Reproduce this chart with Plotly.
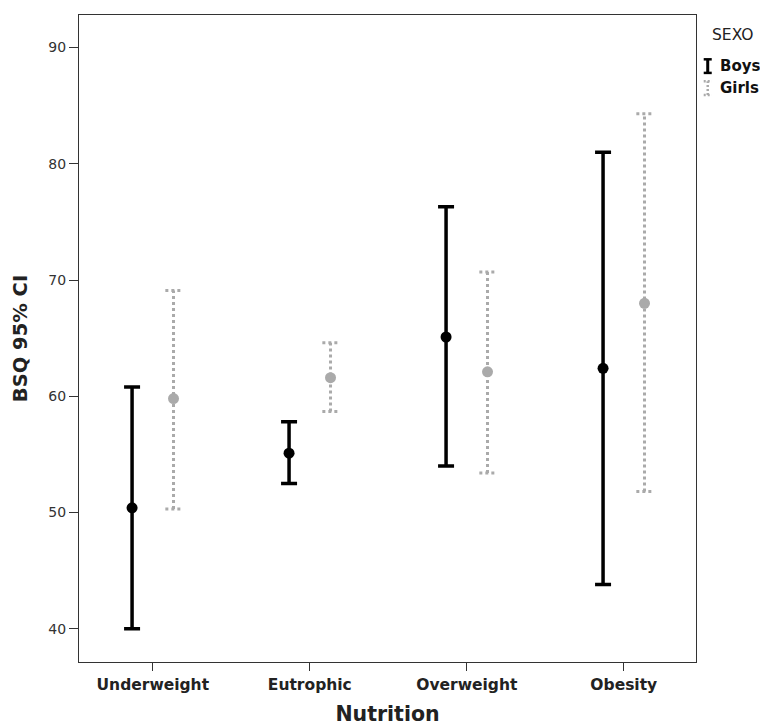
import plotly.graph_objects as go

categories = ["Underweight", "Eutrophic", "Overweight", "Obesity"]
boys_mean = [50.4, 55.1, 65.1, 62.4]
boys_low = [40.0, 52.5, 54.0, 43.8]
boys_high = [60.8, 57.8, 76.3, 81.0]
girls_mean = [59.8, 61.6, 62.1, 68.0]
girls_low = [50.3, 58.7, 53.4, 51.8]
girls_high = [69.1, 64.6, 70.7, 84.3]
y_ticks = [40, 50, 60, 70, 80, 90]

OFFSET = 0.132
CAP = 0.052
FONT = "DejaVu Sans"
GRAY = "#aaaaaa"

xb = [i - OFFSET for i in range(len(categories))]
xg = [i + OFFSET for i in range(len(categories))]

fig = go.Figure()

# Boys: solid black error bars
fig.add_trace(go.Scatter(
    x=xb, y=boys_mean, mode="markers",
    marker=dict(color="black", size=11),
    error_y=dict(type="data", symmetric=False,
                 array=[h - m for h, m in zip(boys_high, boys_mean)],
                 arrayminus=[m - l for m, l in zip(boys_mean, boys_low)],
                 color="black", thickness=3.5, width=8),
    showlegend=False, name="Boys"))

# Girls: dashed gray error bars built from line segments
lx, ly = [], []
for x, lo, hi in zip(xg, girls_low, girls_high):
    lx += [x, x, None, x - CAP, x + CAP, None, x - CAP, x + CAP, None]
    ly += [lo, hi, None, hi, hi, None, lo, lo, None]
fig.add_trace(go.Scatter(
    x=lx, y=ly, mode="lines",
    line=dict(color=GRAY, width=3, dash="3px,3px"),
    showlegend=False, hoverinfo="skip"))
fig.add_trace(go.Scatter(
    x=xg, y=girls_mean, mode="markers",
    marker=dict(color=GRAY, size=11),
    showlegend=False, name="Girls"))

fig.update_layout(
    width=760, height=718,
    margin=dict(l=71, r=72, t=7, b=64),
    paper_bgcolor="white", plot_bgcolor="white",
    font=dict(family=FONT, color="#222"),
    xaxis=dict(range=[-0.47, 3.46], tickvals=list(range(len(categories))),
               ticktext=categories, showgrid=False, zeroline=False, automargin=False,
               showline=True, mirror=True, linecolor="#333", linewidth=1.2,
               ticks="outside", ticklen=8, tickcolor="#333",
               tickfont=dict(family=FONT, size=15.5, color="#222", weight="bold"),
               title=dict(text="<b>Nutrition</b>", font=dict(family=FONT, size=20.5, color="#222"),
                          standoff=15)),
    yaxis=dict(range=[37.14, 92.8], tickvals=y_ticks, showgrid=False, zeroline=False, automargin=False,
               showline=True, mirror=True, linecolor="#333", linewidth=1.2,
               ticks="outside", ticklen=9, tickcolor="#333",
               tickfont=dict(family=FONT, size=14, color="#333"),
               title=dict(text="<b>BSQ 95% CI</b>", font=dict(family=FONT, size=19.5, color="#222"),
                          standoff=15)),
)

# Legend (SPSS style) as annotations and small icon shapes
fig.add_annotation(xref="paper", yref="paper", x=1.023, y=0.969, text="SEXO",
                   showarrow=False, xanchor="left", yanchor="middle",
                   font=dict(family=FONT, size=15.5, color="#222"))
fig.add_annotation(xref="paper", yref="paper", x=1.036, y=0.921, text="<b>Boys</b>",
                   showarrow=False, xanchor="left", yanchor="middle",
                   font=dict(family=FONT, size=15, color="#111"))
fig.add_annotation(xref="paper", yref="paper", x=1.036, y=0.887, text="<b>Girls</b>",
                   showarrow=False, xanchor="left", yanchor="middle",
                   font=dict(family=FONT, size=15, color="#111"))

ix, dy, dx = 1.019, 0.0105, 0.0065
for yc, col, dash, w in [(0.921, "black", "solid", 3), (0.887, GRAY, "2px,2px", 2.5)]:
    fig.add_shape(type="line", xref="paper", yref="paper", x0=ix, x1=ix, y0=yc - dy, y1=yc + dy,
                  line=dict(color=col, width=w, dash=dash))
    for yy in (yc - dy, yc + dy):
        fig.add_shape(type="line", xref="paper", yref="paper", x0=ix - dx, x1=ix + dx, y0=yy, y1=yy,
                      line=dict(color=col, width=2.5, dash=dash))

fig.write_html("out.html")
